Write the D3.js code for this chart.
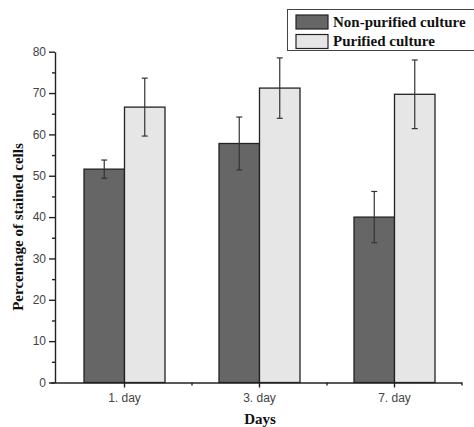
<!DOCTYPE html>
<html>
<head>
<meta charset="utf-8">
<script src="https://cdn.jsdelivr.net/npm/d3@7"></script>
<style>
  body { margin: 0; background: #fff; }
  .tick text { font-family: "Liberation Sans", Arial, sans-serif; font-size: 12px; fill: #444; }
  .title { font-family: "Liberation Serif", "Times New Roman", serif; font-weight: bold; font-size: 15px; fill: #111; }
</style>
</head>
<body>
<svg id="chart" width="474" height="427"></svg>
<script>
// categories and series
const days = ['1. day', '3. day', '7. day'];
const series = ['Non-purified culture', 'Purified culture'];
const nonPurified = [51.6, 57.8, 40.0];
const nonPurifiedErr = [2.2, 6.4, 6.2];
const purified = [66.6, 71.2, 69.7];
const purifiedErr = [7.0, 7.3, 8.3];
const yTicks = [0, 10, 20, 30, 40, 50, 60, 70, 80];

const colors = ['#666666', '#e6e6e6'];

const svg = d3.select('#chart');
const plotLeft = 55, plotRight = 462, plotTop = 51.7, plotBottom = 382.5;

const x = d3.scaleBand().domain(days).range([57, plotRight]).padding(0);
const inner = d3.scaleBand().domain(series).range([0, x.bandwidth() * 0.6]);
const y = d3.scaleLinear().domain([0, 80]).range([plotBottom, plotTop]);

const values = [nonPurified, purified];
const errors = [nonPurifiedErr, purifiedErr];
const rows = [];
days.forEach((d, i) => {
    series.forEach((s, j) => {
        rows.push({day: d, series: s, idx: j, value: values[j][i], err: errors[j][i]});
    });
});

const offset = x.bandwidth() * 0.2;

// bars
svg.append('g')
    .selectAll('rect')
    .data(rows)
    .enter().append('rect')
    .attr('x', d => x(d.day) + offset + inner(d.series))
    .attr('y', d => y(d.value))
    .attr('width', inner.bandwidth())
    .attr('height', d => y(0) - y(d.value))
    .attr('fill', d => colors[d.idx])
    .attr('stroke', '#222')
    .attr('stroke-width', 1.3);

// error bars
const eb = svg.append('g').attr('stroke', '#333').attr('stroke-width', 1.2);
rows.forEach(d => {
    const cx = x(d.day) + offset + inner(d.series) + inner.bandwidth() / 2;
    eb.append('line').attr('x1', cx).attr('x2', cx).attr('y1', y(d.value + d.err)).attr('y2', y(d.value - d.err));
    eb.append('line').attr('x1', cx - 3).attr('x2', cx + 3).attr('y1', y(d.value + d.err)).attr('y2', y(d.value + d.err));
    eb.append('line').attr('x1', cx - 3).attr('x2', cx + 3).attr('y1', y(d.value - d.err)).attr('y2', y(d.value - d.err));
});

// y axis
svg.append('g')
    .attr('transform', `translate(${plotLeft},0)`)
    .call(d3.axisLeft(y).tickValues(yTicks).tickSize(6).tickPadding(3).tickSizeOuter(0));
svg.append('g')
    .attr('transform', `translate(${plotLeft},0)`)
    .call(d3.axisLeft(y).tickValues(d3.range(5, 80, 10)).tickSize(3).tickFormat('').tickSizeOuter(0))
    .select('.domain').remove();

// x axis
const xAxis = svg.append('g')
    .attr('transform', `translate(0,${plotBottom})`)
    .call(d3.axisBottom(x).tickSize(5).tickPadding(6).tickSizeOuter(0));
xAxis.select('.domain').attr('d', `M${plotLeft - 4},0.5H${plotRight}`);
svg.append('g')
    .attr('transform', `translate(0,${plotBottom})`)
    .call(d3.axisBottom(x.copy().domain(d3.range(days.length)).range([57 + x.bandwidth() / 2, plotRight + x.bandwidth() / 2]))
        .tickSize(3).tickFormat('').tickSizeOuter(0))
    .select('.domain').remove();

svg.selectAll('.domain, .tick line').attr('stroke', '#222').attr('stroke-width', 1.4);

// axis titles
svg.append('text')
    .attr('class', 'title')
    .attr('transform', 'translate(23,227) rotate(-90)')
    .attr('text-anchor', 'middle')
    .text('Percentage of stained cells');

svg.append('text')
    .attr('class', 'title')
    .attr('x', 260)
    .attr('y', 424)
    .attr('text-anchor', 'middle')
    .text('Days');

// legend
const legend = svg.append('g');
legend.append('rect')
    .attr('x', 287.5).attr('y', 9.5).attr('width', 200).attr('height', 41)
    .attr('fill', '#fff').attr('stroke', '#444').attr('stroke-width', 1);
series.forEach((s, j) => {
    legend.append('rect')
        .attr('x', 296).attr('y', 15 + j * 19.5).attr('width', 32).attr('height', 14)
        .attr('fill', colors[j]).attr('stroke', '#222').attr('stroke-width', 1.2);
    legend.append('text')
        .attr('class', 'title')
        .attr('x', 333).attr('y', 27 + j * 19)
        .attr('font-size', '16px')
        .text(s);
});
</script>
</body>
</html>
